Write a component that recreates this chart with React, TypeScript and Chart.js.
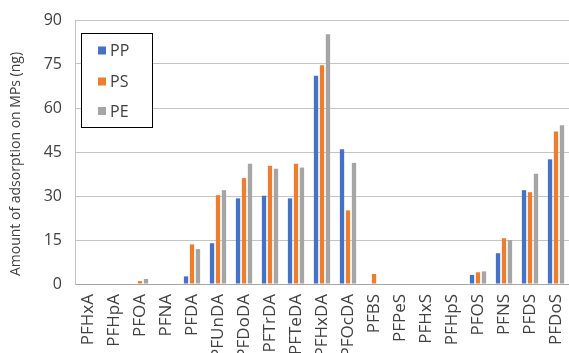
import React, { useEffect, useRef } from "react";
import { Chart, registerables } from "chart.js";

Chart.register(...registerables);

const categories = [
  "PFHxA", "PFHpA", "PFOA", "PFNA", "PFDA", "PFUnDA", "PFDoDA", "PFTrDA", "PFTeDA",
  "PFHxDA", "PFOcDA", "PFBS", "PFPeS", "PFHxS", "PFHpS", "PFOS", "PFNS", "PFDS", "PFDoS",
];
const ppValues = [0, 0, 0, 0, 2.6, 13.9, 29.2, 30.1, 29.2, 71.0, 45.9, 0, 0, 0, 0, 3.1, 10.5, 32.0, 42.5];
const psValues = [0, 0, 1.0, 0, 13.5, 30.3, 36.1, 40.3, 41.0, 74.6, 25.1, 3.4, 0, 0, 0, 4.0, 15.6, 31.3, 52.0];
const peValues = [0, 0, 1.7, 0, 11.9, 32.0, 41.0, 39.3, 39.7, 85.1, 41.3, 0, 0, 0, 0, 4.3, 15.0, 37.6, 54.1];
const seriesNames = ["PP", "PS", "PE"];
const seriesColors = ["#4472C4", "#ED7D31", "#A5A5A5"];
const yTitle = "Amount of adsorption on MPs (ng)";
const FONT = "'Open Sans', sans-serif";
const TEXT = "#404040";

const overlayPlugin = {
  id: "overlay",
  afterDraw(chart: any) {
    const ctx = chart.ctx as CanvasRenderingContext2D;
    ctx.save();
    // Y title
    ctx.translate(16, 164);
    ctx.rotate(-Math.PI / 2);
    ctx.font = `14px ${FONT}`;
    ctx.fillStyle = TEXT;
    ctx.textAlign = "center";
    ctx.textBaseline = "middle";
    ctx.fillText(yTitle, 0, 0);
    ctx.restore();

    // Legend box
    ctx.save();
    const bx = 81.5, by = 33.5, bw = 71, bh = 94;
    ctx.fillStyle = "#ffffff";
    ctx.fillRect(bx, by, bw, bh);
    ctx.strokeStyle = "#000000";
    ctx.lineWidth = 1;
    ctx.strokeRect(bx, by, bw, bh);
    ctx.font = `16px ${FONT}`;
    ctx.textBaseline = "middle";
    ctx.textAlign = "left";
    const ys = [50.5, 81.5, 111];
    seriesNames.forEach((name, i) => {
      ctx.fillStyle = seriesColors[i];
      ctx.fillRect(98, ys[i] - 4, 8, 8);
      ctx.fillStyle = TEXT;
      ctx.fillText(name, 110, ys[i] + 1);
    });
    ctx.restore();
  },
};

export default function App() {
  const ref = useRef<HTMLCanvasElement | null>(null);
  useEffect(() => {
    if (!ref.current) return;
    const chart = new Chart(ref.current, {
      type: "bar",
      data: {
        labels: categories,
        datasets: [ppValues, psValues, peValues].map((vals, i) => ({
          label: seriesNames[i],
          data: vals,
          backgroundColor: seriesColors[i],
          borderWidth: 0,
          categoryPercentage: 0.69,
          barPercentage: 0.72,
        })),
      },
      options: {
        animation: false,
        responsive: true,
        maintainAspectRatio: false,
        layout: { padding: { top: 20, right: -2, left: 0, bottom: 0 } },
        plugins: {
          legend: { display: false },
          tooltip: { enabled: false },
          title: { display: false },
        },
        scales: {
          x: {
            grid: { display: false, drawTicks: false },
            border: { display: true, color: "#A6A6A6", width: 1 },
            ticks: {
              minRotation: 90,
              maxRotation: 90,
              autoSkip: false,
              padding: 10,
              color: TEXT,
              font: { family: FONT, size: 17 },
            },
            afterFit(scale: any) {
              scale.height = 69;
              scale.paddingLeft = 0;
              scale.paddingRight = 0;
            },
          },
          y: {
            min: 0,
            max: 90,
            ticks: {
              stepSize: 15,
              padding: 13,
              color: TEXT,
              font: { family: FONT, size: 16 },
            },
            grid: { color: "#C4C4C4", drawTicks: false, lineWidth: 1 },
            border: { display: true, color: "#C4C4C4" },
            afterFit(scale: any) {
              scale.width = 75;
              scale.paddingTop = 0;
              scale.paddingBottom = 0;
            },
          },
        },
      },
      plugins: [overlayPlugin],
    });
    return () => chart.destroy();
  }, []);
  return (
    <div style={{ position: "absolute", left: 0, top: 0, width: 569, height: 353, background: "#fff" }}>
      <canvas ref={ref} />
    </div>
  );
}
